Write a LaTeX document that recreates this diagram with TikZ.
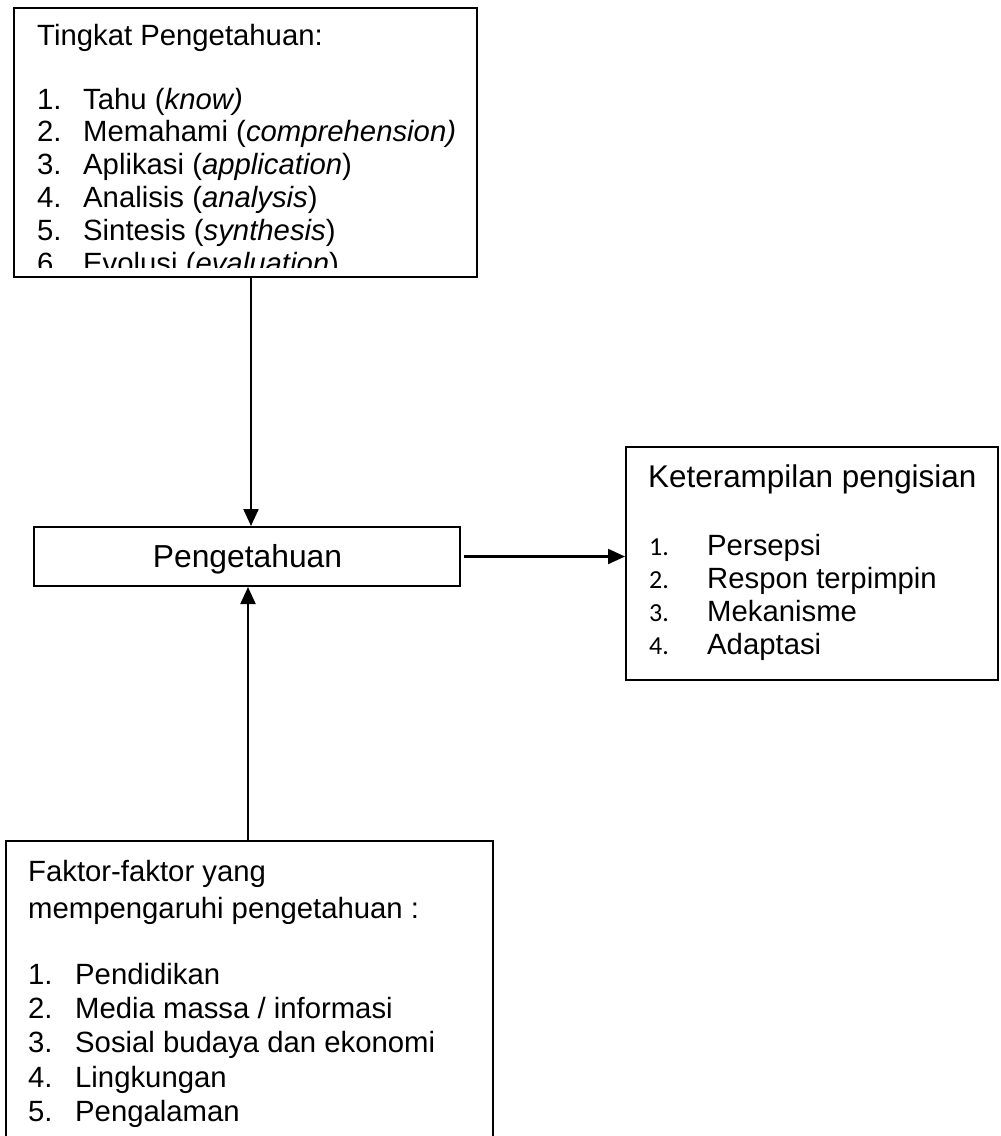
\documentclass[tikz,border=0pt]{standalone}
\usepackage{fontspec}
\setmainfont{Liberation Sans}
\newfontfamily\calib{Carlito}
\usetikzlibrary{arrows.meta}
\begin{document}
\begin{tikzpicture}[x=1pt,y=-1pt,
  box/.style={draw=black, line width=2pt, inner sep=0pt, rectangle},
  txt/.style={anchor=base west, inner sep=0pt, font=\fontsize{29.3}{33}\selectfont},
  hdr/.style={anchor=base west, inner sep=0pt, font=\fontsize{31.4}{36}\selectfont},
  numr/.style={anchor=base west, inner sep=0pt, font=\calib\fontsize{26}{30}\selectfont},
  arr/.style={line width=2.2pt, -{Triangle[length=17pt,width=15pt]}}]
\useasboundingbox (0,0) rectangle (1001,1136);

% boxes
\node[box, minimum width=463pt, minimum height=269pt] (tbox) at (245.5,142.5) {};
\node[box, minimum width=426pt, minimum height=59pt] (peng) at (247,556.5) {};
\node[box, minimum width=372pt, minimum height=233pt] (rbox) at (812,563.5) {};
\node[box, minimum width=487pt, minimum height=309pt] (bbox) at (249.5,995.5) {};

% Pengetahuan label
\node[anchor=base, inner sep=0pt, font=\fontsize{31.8}{36}\selectfont] (pengt) at (247.5,567) {Pengetahuan};

% top box text
\begin{scope}
\clip (15,9) rectangle (476,267);
\node[txt] (th) at (37,45) {Tingkat Pengetahuan:};
\node[txt] (tn1) at (37,109) {1.};
\node[txt] (ti1) at (83,109) {Tahu (\textit{know)}};
\node[txt] (tn2) at (37,141.8) {2.};
\node[txt] (ti2) at (83,141.8) {Memahami (\textit{comprehension)}};
\node[txt] (tn3) at (37,174.6) {3.};
\node[txt] (ti3) at (83,174.6) {Aplikasi (\textit{application})};
\node[txt] (tn4) at (37,207.4) {4.};
\node[txt] (ti4) at (83,207.4) {Analisis (\textit{analysis})};
\node[txt] (tn5) at (37,240.2) {5.};
\node[txt] (ti5) at (83,240.2) {Sintesis (\textit{synthesis})};
\node[txt] (tn6) at (37,273) {6.};
\node[txt] (ti6) at (83,273) {Evolusi (\textit{evaluation})};
\end{scope}

% right box text
\node[hdr] (rh) at (648,487) {Keterampilan pengisian};
\node[numr] (rn1) at (649,555.5) {1.};
\node[txt] (ri1) at (707,555.5) {Persepsi};
\node[numr] (rn2) at (649,588.5) {2.};
\node[txt] (ri2) at (707,588.5) {Respon terpimpin};
\node[numr] (rn3) at (649,621.5) {3.};
\node[txt] (ri3) at (707,621.5) {Mekanisme};
\node[numr] (rn4) at (649,654) {4.};
\node[txt] (ri4) at (707,654) {Adaptasi};

% bottom box text
\node[txt] (bh1) at (28,881) {Faktor-faktor yang};
\node[txt] (bh2) at (28,918) {mempengaruhi pengetahuan :};
\node[txt] (bn1) at (28,984) {1.};
\node[txt] (bi1) at (75,984) {Pendidikan};
\node[txt] (bn2) at (28,1018) {2.};
\node[txt] (bi2) at (75,1018) {Media massa / informasi};
\node[txt] (bn3) at (28,1052.5) {3.};
\node[txt] (bi3) at (75,1052.5) {Sosial budaya dan ekonomi};
\node[txt] (bn4) at (28,1087) {4.};
\node[txt] (bi4) at (75,1087) {Lingkungan};
\node[txt] (bn5) at (28,1121) {5.};
\node[txt] (bi5) at (75,1121) {Pengalaman};

% connectors
\draw[arr] ([xshift=5.5pt]tbox.south) -- ([xshift=4pt]peng.north);
\draw[arr] ([xshift=-1.5pt]bbox.north) -- ([xshift=1pt]peng.south);
\draw[arr] ([xshift=3pt]peng.east) -- (peng.east -| rbox.west);
\end{tikzpicture}
\end{document}
